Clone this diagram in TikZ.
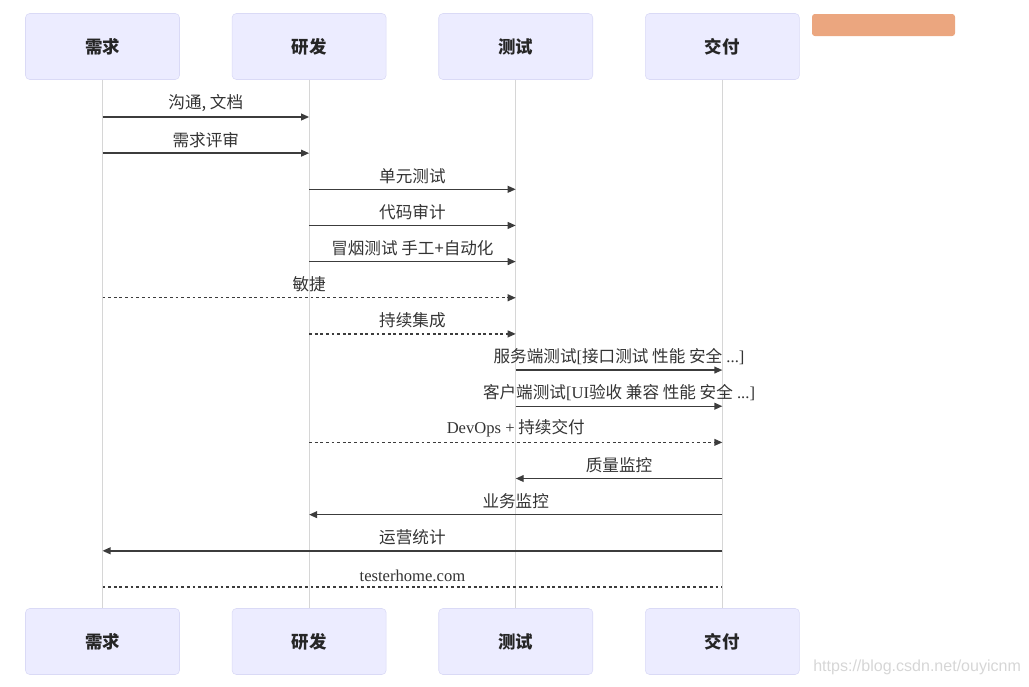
\documentclass[tikz,border=0pt]{standalone}
\usepackage{fontspec}
\setmainfont{Liberation Serif}
\newfontfamily\cjk{Noto Sans CJK SC}
\newfontfamily\websans{Liberation Sans}
\usetikzlibrary{positioning,arrows.meta}
\definecolor{ActorFill}{RGB}{236,236,255}
\definecolor{ActorLine}{RGB}{218,218,246}
\definecolor{LifeGray}{RGB}{214,214,214}
\definecolor{MsgGray}{RGB}{60,60,60}
\definecolor{BlurOrange}{RGB}{232,150,104}
\tikzset{
  actor/.style={draw=ActorLine,fill=ActorFill,rounded corners=3pt,
    minimum width=3.85cm,minimum height=1.65cm,align=center,
    font=\cjk\bfseries\fontsize{12.4}{14}\selectfont,text=black!85},
  lifeline/.style={draw=LifeGray,line width=0.6pt},
  msg/.style={-{Triangle[length=2mm,width=1.7mm]},line width=1pt,draw=MsgGray},
  dotmsg/.style={msg,dash pattern=on 2pt off 2pt},
  dotline/.style={line width=1pt,draw=MsgGray,dash pattern=on 2pt off 2pt},
  msglabel/.style={above=2.5pt,inner sep=1pt,font=\cjk\fontsize{11.8}{13}\selectfont,text=black!80}
}

\begin{document}
\begin{tikzpicture}[x=0.025cm,y=-0.025cm]
  \useasboundingbox (0,0) rectangle (1029,686);
  % actors
  \node[actor] (req) at (102.5,46.5) {需求};
  \node[actor,right=1.3cm of req] (dev) {研发};
  \node[actor,right=1.3cm of dev] (qa) {测试};
  \node[actor,right=1.3cm of qa] (ship) {交付};
  \node[actor] (reqB) at (102.5,641.5) {需求};
  \node[actor,right=1.3cm of reqB] (devB) {研发};
  \node[actor,right=1.3cm of devB] (qaB) {测试};
  \node[actor,right=1.3cm of qaB] (shipB) {交付};
  \foreach \a in {req,dev,qa,ship}
    \draw[lifeline] (\a) -- (\a B);
  % message rows
  \foreach \i in {1,...,14} {
    \pgfmathsetmacro\yy{117+(\i-1)*36.15}
    \foreach \a in {req,dev,qa,ship}
      \coordinate (\a-\i) at (\a |- 0,\yy);
  }
  \draw[msg] (req-1) -- node[msglabel] {沟通, 文档} (dev-1);
  \draw[msg] (req-2) -- node[msglabel] {需求评审} (dev-2);
  \draw[msg] (dev-3) -- node[msglabel] {单元测试} (qa-3);
  \draw[msg] (dev-4) -- node[msglabel] {代码审计} (qa-4);
  \draw[msg] (dev-5) -- node[msglabel] {冒烟测试 手工+自动化} (qa-5);
  \draw[dotmsg] (req-6) -- node[msglabel] {敏捷} (qa-6);
  \draw[dotmsg] (dev-7) -- node[msglabel] {持续集成} (qa-7);
  \draw[msg] (qa-8) -- node[msglabel] {服务端测试{\rmfamily [}接口测试 性能 安全{\rmfamily\ ...]}} (ship-8);
  \draw[msg] (qa-9) -- node[msglabel] {客户端测试{\rmfamily [UI}验收 兼容 性能 安全{\rmfamily\ ...]}} (ship-9);
  \draw[dotmsg] (dev-10) -- node[msglabel] {{\rmfamily DevOps +} 持续交付} (ship-10);
  \draw[msg] (ship-11) -- node[msglabel] {质量监控} (qa-11);
  \draw[msg] (ship-12) -- node[msglabel] {业务监控} (dev-12);
  \draw[msg] (ship-13) -- node[msglabel] {运营统计} (req-13);
  \draw[dotline] (req-14) -- node[msglabel,font=\rmfamily\fontsize{11.8}{13}\selectfont] {testerhome.com} (ship-14);
  % blurred patch and watermark
  \fill[BlurOrange!85,rounded corners=2pt] (812,14) rectangle (955,36);
  \node[anchor=west,inner sep=0pt,text=black!16,font=\websans\fontsize{11.4}{13}\selectfont] (wmark) at (813,667) {https://blog.csdn.net/ouyicnm};
\end{tikzpicture}
\end{document}
